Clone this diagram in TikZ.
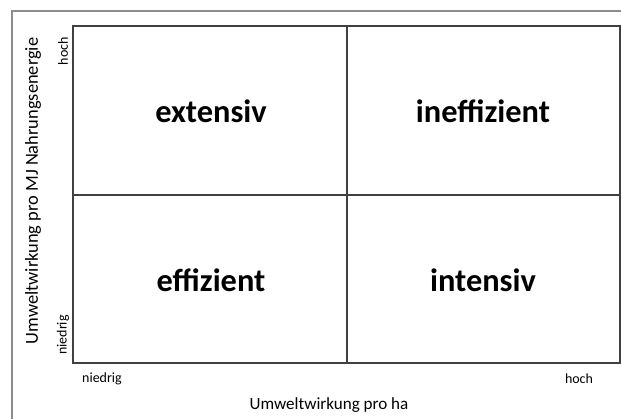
\documentclass[tikz,border=0pt]{standalone}
\usepackage{fontspec}
\setmainfont{Carlito}
\begin{document}
\begin{tikzpicture}[x=0.75pt,y=-0.75pt,
  frame/.style={draw=black!45,line width=1.2pt},
  grid/.style={draw=black!75,line width=1.1pt},
  quad/.style={font=\bfseries\fontsize{24.3}{28}\selectfont,inner sep=0pt},
  axlab/.style={font=\fontsize{12.8}{15}\selectfont,inner sep=0pt},
  aylab/.style={font=\fontsize{13.8}{16}\selectfont,inner sep=0pt},
  small/.style={font=\fontsize{10.5}{12}\selectfont,inner sep=0pt}]
\useasboundingbox (0,0) rectangle (621,418);
\fill[white] (0,0) rectangle (621,418);
\coordinate (fl) at (12,420);
\coordinate (ftl) at (12,11);
\coordinate (ftr) at (622,11);
\draw[frame] (fl) -- (ftl) -- (ftr);
\coordinate (bl) at (73,26);
\coordinate (br) at (620,363);
\draw[grid] (bl) rectangle (br);
\coordinate (vt) at (347,26);
\coordinate (vb) at (347,363);
\coordinate (hl) at (73,195);
\coordinate (hr) at (620,195);
\draw[grid] (vt) -- (vb);
\draw[grid] (hl) -- (hr);
\node[quad] (q1) at (211,111) {extensiv};
\node[quad] (q2) at (483,111) {ineffizient};
\node[quad] (q3) at (211,280) {effizient};
\node[quad] (q4) at (483,280) {intensiv};
\node[axlab] (xl) at (329,405) {Umweltwirkung pro ha};
\node[aylab,rotate=90] (yl) at (33,191) {Umweltwirkung pro MJ Nahrungsenergie};
\node[small] (xn) at (102,379) {niedrig};
\node[small] (xh) at (579,379) {hoch};
\node[small,rotate=90] (yh) at (63,51) {hoch};
\node[small,rotate=90] (yn) at (63,335) {niedrig};
\end{tikzpicture}
\end{document}
